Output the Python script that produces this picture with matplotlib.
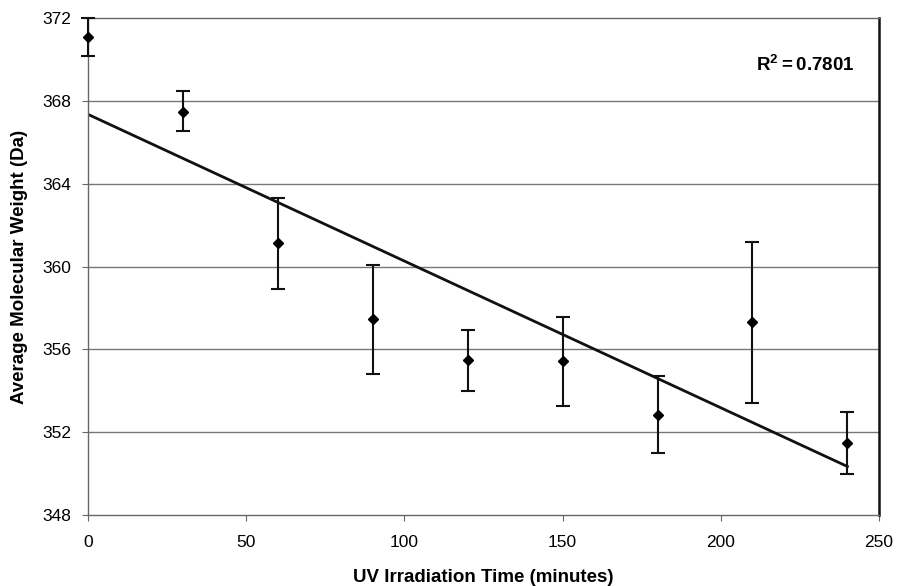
import numpy as np
import matplotlib
matplotlib.use("Agg")
import matplotlib.pyplot as plt

plt.rcParams['font.family'] = ['Liberation Sans', 'DejaVu Sans']
plt.rcParams['mathtext.fontset'] = 'custom'
plt.rcParams['mathtext.rm'] = 'Liberation Sans'
plt.rcParams['mathtext.bf'] = 'Liberation Sans:bold'

time_min = [0, 30, 60, 90, 120, 150, 180, 210, 240]
mw_mean = [371.08, 367.47, 361.16, 357.45, 355.47, 355.42, 352.82, 357.33, 351.47]
mw_upper = [372.0, 368.48, 363.3, 360.1, 356.96, 357.59, 354.7, 361.2, 352.96]
mw_lower = [370.16, 366.55, 358.94, 354.8, 353.98, 353.25, 351.0, 353.4, 349.98]
r2_text = r'$\mathbf{R^2 = 0.7801}$'
x_ticks = [0, 50, 100, 150, 200, 250]
y_ticks = [348, 352, 356, 360, 364, 368, 372]

x = np.array(time_min)
y = np.array(mw_mean)
err = np.array([y - np.array(mw_lower), np.array(mw_upper) - y])

fig = plt.figure(figsize=(8.97, 5.86), dpi=100)
ax = fig.add_axes([0.098, 0.121, 0.882, 0.848])

ax.set_xlim(0, 250)
ax.set_ylim(348, 372)
ax.set_xticks(x_ticks)
ax.set_yticks(y_ticks)

for yy in y_ticks[1:-1]:
    ax.axhline(yy, color='#777777', linewidth=1.0, zorder=1)

eb = ax.errorbar(x, y, yerr=err, fmt='D', color='black', markersize=5,
                 ecolor='#111111', elinewidth=1.5, capsize=5, capthick=1.5, zorder=3)
for artist in eb.lines[0:1] + tuple(eb.lines[1]) + tuple(eb.lines[2]):
    artist.set_clip_on(False)

coef = np.polyfit(x, y, 1)
xf = np.array([x.min(), x.max()])
ax.plot(xf, np.polyval(coef, xf), color='#111111', linewidth=2.0, zorder=2)

ax.text(0.969, 0.905, r2_text, transform=ax.transAxes, ha='right', va='center',
        fontsize=13.5)

for s in ['left', 'bottom', 'top']:
    ax.spines[s].set_color('#666666')
    ax.spines[s].set_linewidth(1.0)
ax.spines['right'].set_color('#111111')
ax.spines['right'].set_linewidth(1.8)

ax.tick_params(axis='both', which='major', labelsize=12.5, length=4,
               color='#666666', direction='out')
ax.tick_params(axis='x', pad=10)
ax.tick_params(axis='y', pad=8)

ax.set_xlabel('UV Irradiation Time (minutes)', fontsize=13.5, fontweight='bold', labelpad=14)
ax.set_ylabel('Average Molecular Weight (Da)', fontsize=13.5, fontweight='bold', labelpad=10)

fig.savefig('out.png', dpi=100)
